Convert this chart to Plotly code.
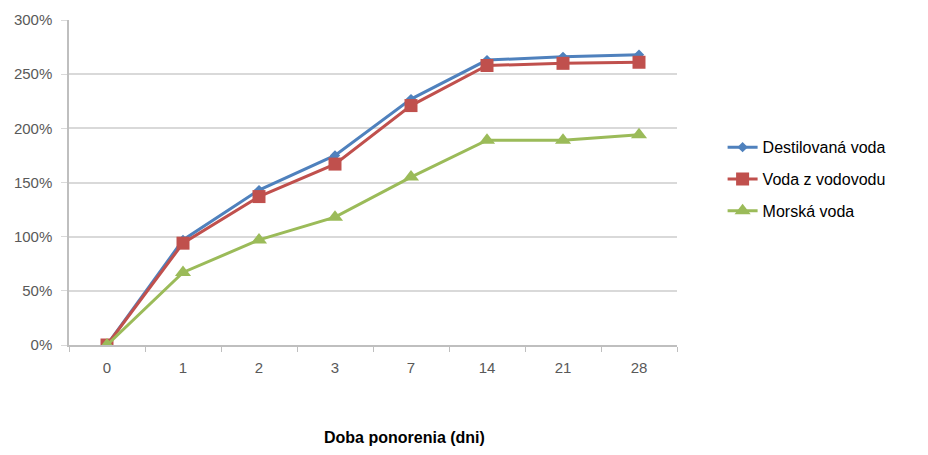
import plotly.graph_objects as go

days = ["0", "1", "2", "3", "7", "14", "21", "28"]
destilovana = [0, 97, 143, 175, 227, 263, 266, 268]
vodovod = [0, 94, 137, 167, 221, 258, 260, 261]
morska = [0, 67, 97, 118, 155, 189, 189, 194]
names = ["Destilovaná voda", "Voda z vodovodu", "Morská voda"]
colors = ["#4F81BD", "#C0504D", "#9BBB59"]
symbols = ["diamond", "square", "triangle-up"]
sizes = [8, 13, 14]

fig = go.Figure()
for i, (vals, name, c, s, sz) in enumerate(zip([destilovana, vodovod, morska], names, colors, symbols, sizes)):
    fig.add_trace(go.Scatter(
        x=days, y=vals, name=name, mode="lines+markers", legendgroup=f"g{i}",
        line=dict(color=c, width=3),
        marker=dict(symbol=s, size=sz, color=c),
    ))

fig.update_layout(
    width=928, height=455,
    margin=dict(l=69, r=251, t=20, b=110),
    paper_bgcolor="white", plot_bgcolor="white",
    font=dict(family="Liberation Sans", color="#595959"),
    legend=dict(x=1.075, y=0.51, xanchor="left", yanchor="middle",
                font=dict(size=16, color="black", family="Liberation Sans"),
                bgcolor="rgba(0,0,0,0)", tracegroupgap=8),
    showlegend=True,
)
fig.update_xaxes(
    type="category", range=[-0.5, 7.5],
    showline=True, linecolor="#BFBFBF", linewidth=1.5,
    ticks="outside", tickson="boundaries", ticklen=5, tickcolor="#BFBFBF",
    tickfont=dict(size=15, color="#595959"), showgrid=False,
    ticklabelstandoff=8,
)
fig.update_yaxes(
    range=[0, 300], dtick=50, ticksuffix="%",
    showline=True, linecolor="#BFBFBF", linewidth=1.5,
    ticks="outside", ticklen=6, tickcolor="#D9D9D9",
    gridcolor="#D9D9D9", gridwidth=1.5, zeroline=False,
    tickfont=dict(size=15, color="#595959"),
    ticklabelstandoff=6,
)
fig.add_annotation(
    text="<b>Doba ponorenia (dni)</b>", xref="paper", yref="paper",
    x=(404 - 69) / 608, y=-(437 - 345) / 325, xanchor="center", yanchor="middle",
    showarrow=False, font=dict(size=16, color="black", family="Liberation Sans"),
)
fig.write_html("out.html", config={"displayModeBar": False},
               post_script="document.body.style.margin='0';document.body.style.overflow='hidden';")
